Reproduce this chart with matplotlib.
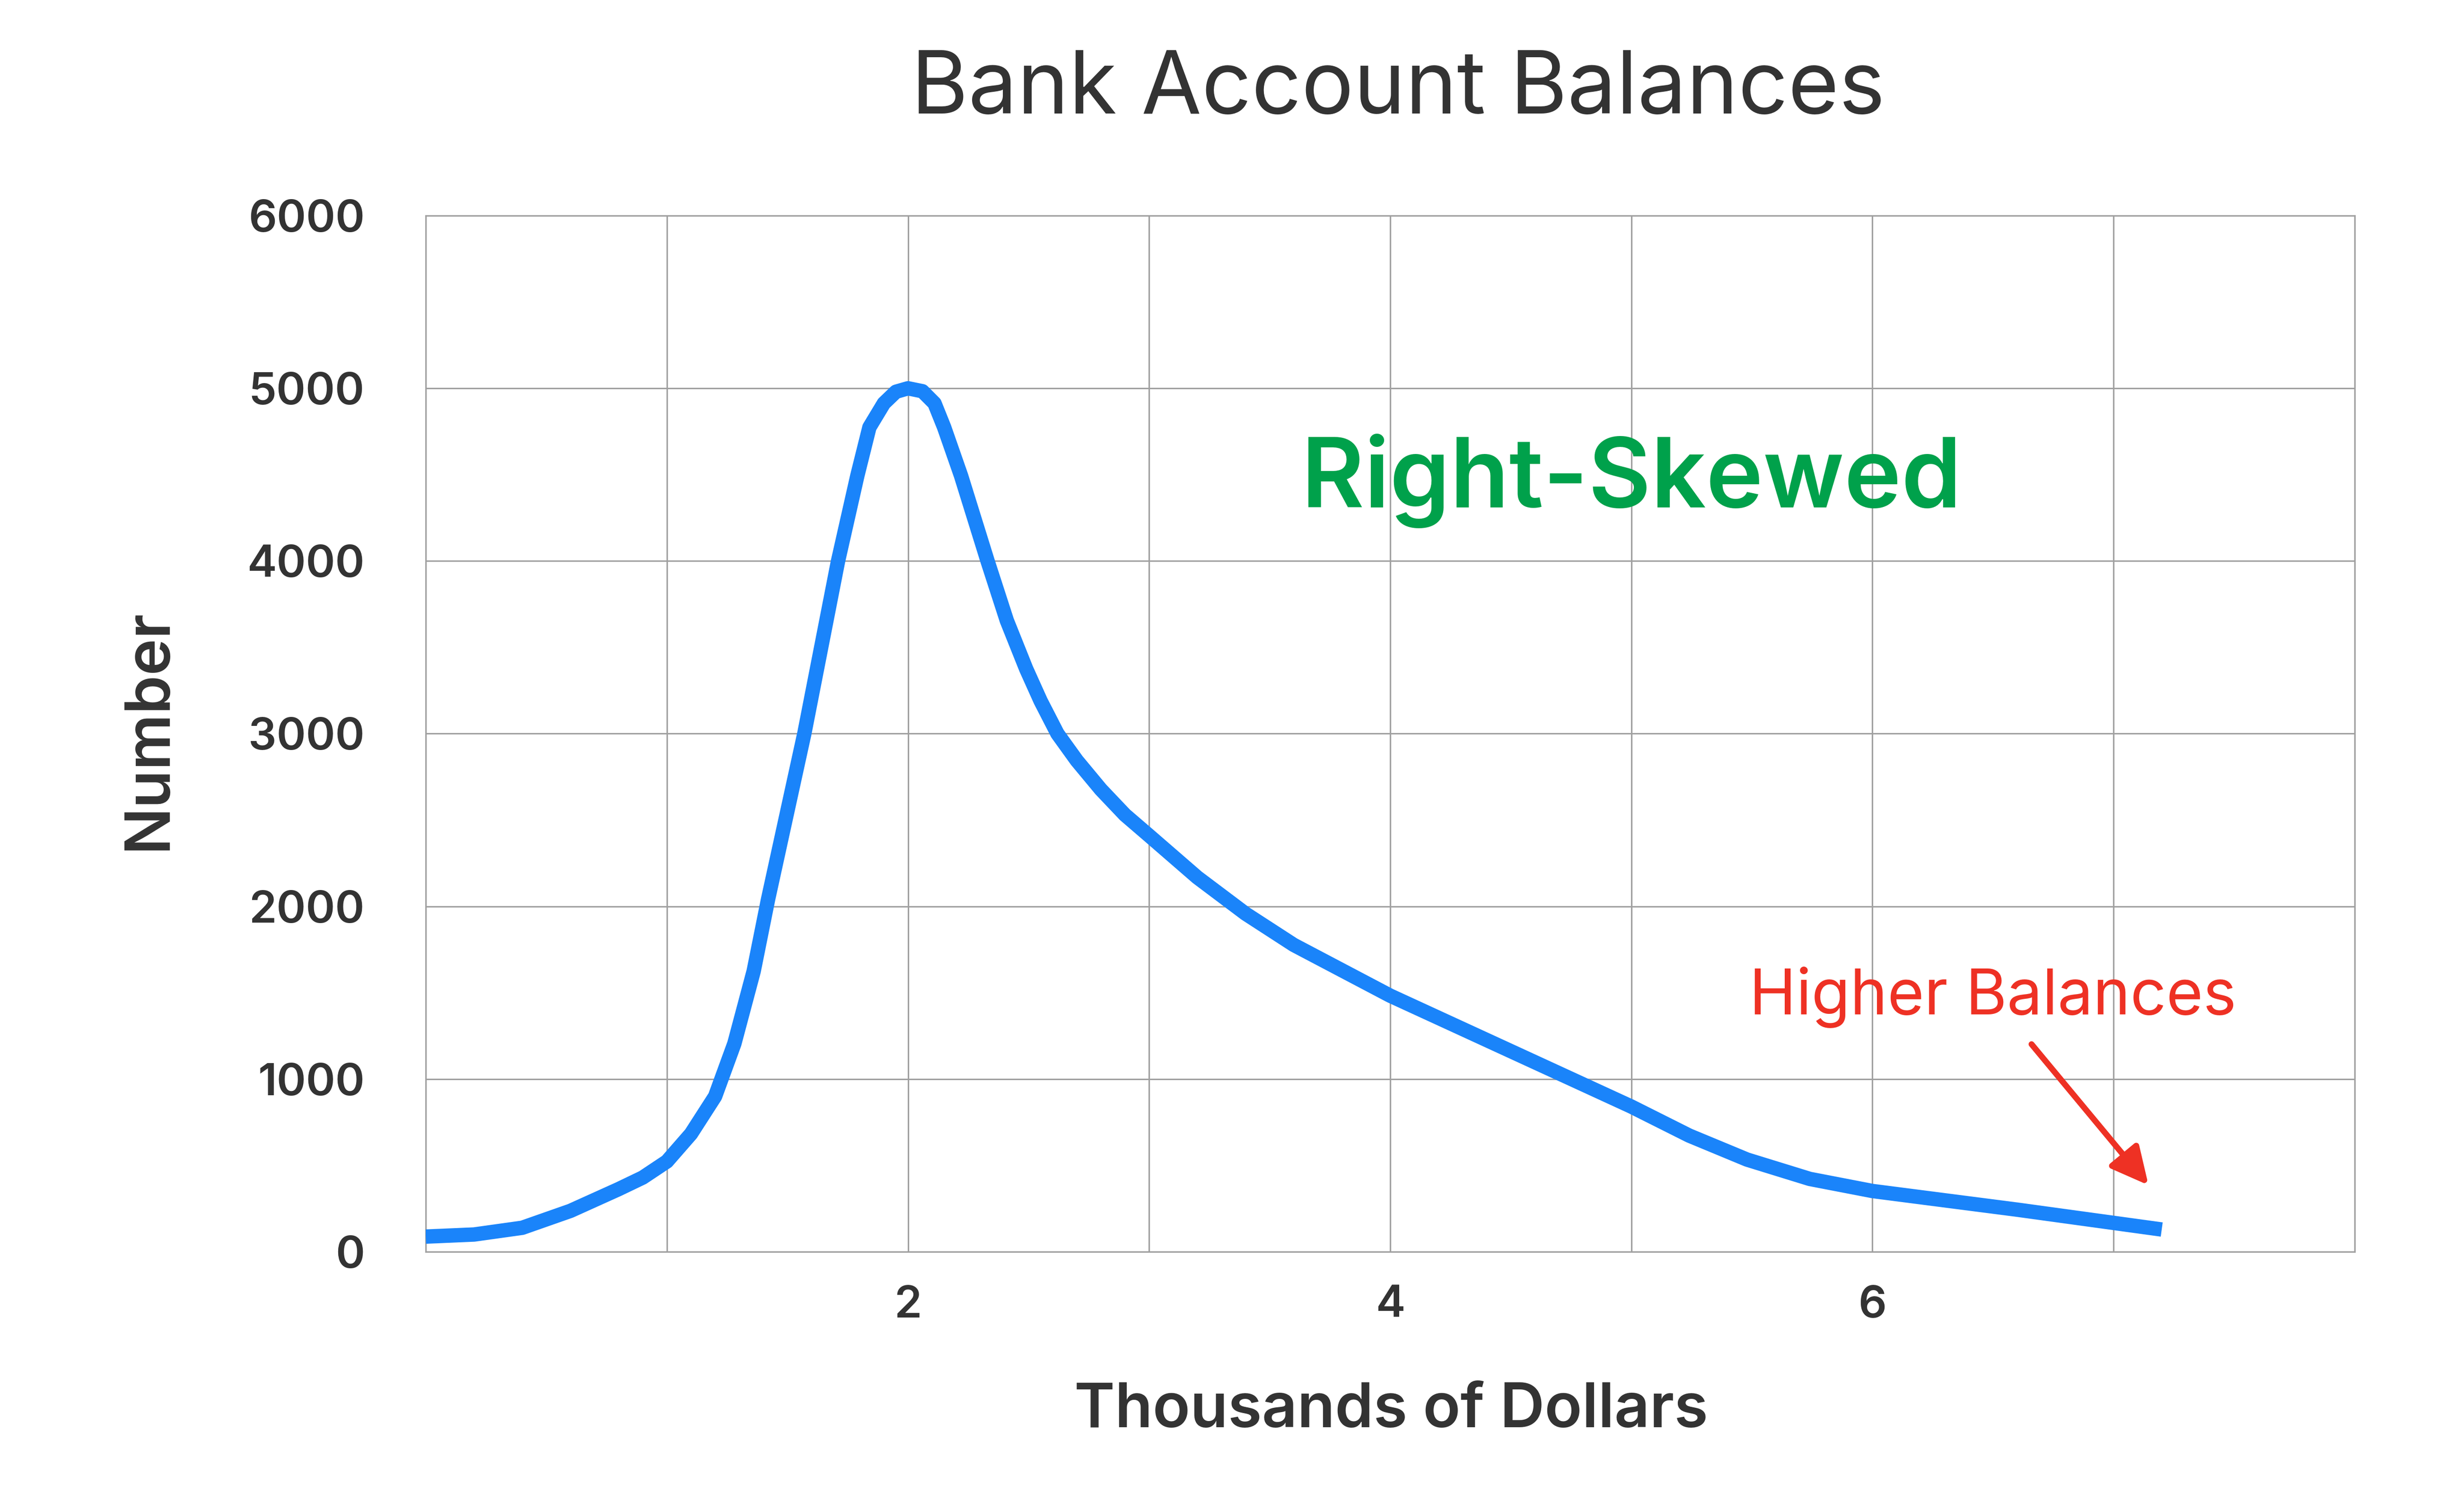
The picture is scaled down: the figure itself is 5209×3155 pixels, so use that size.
import matplotlib
matplotlib.use("Agg")
import matplotlib.pyplot as plt

# Balances (thousands of dollars) and number of accounts
balance = [0, 0.2, 0.4, 0.6, 0.8, 0.9, 1.0, 1.1, 1.2, 1.28, 1.36, 1.42, 1.57, 1.71,
           1.79, 1.84, 1.90, 1.95, 2.0, 2.06, 2.11, 2.15, 2.22, 2.33, 2.41, 2.49,
           2.55, 2.62, 2.7, 2.8, 2.9, 3.0, 3.2, 3.4, 3.6, 4.0, 4.5, 5.0, 5.24,
           5.48, 5.74, 6.0, 6.6, 7.2]
number = [88, 100, 139, 237, 363, 430, 523, 683, 900, 1206, 1625, 2043, 3000, 4000,
          4494, 4774, 4913, 4980, 5000, 4983, 4913, 4774, 4494, 4000, 3655, 3376,
          3190, 3000, 2845, 2677, 2530, 2410, 2168, 1958, 1777, 1483, 1162, 841, 673,
          534, 422, 352, 244, 129]

x_ticks = list(range(0, 9))
x_labels = ["", "", "2", "", "4", "", "6", "", ""]
y_ticks = [0, 1000, 2000, 3000, 4000, 5000, 6000]

dark = "#333333"
grid_col = "#a0a0a0"

plt.rcParams["font.family"] = ["Inter", "DejaVu Sans"]

fig = plt.figure(figsize=(5209 / 300, 3155 / 300), dpi=300)
ax = fig.add_axes([0.1728, 0.161, 0.7828, 0.6945])

ax.plot(balance, number, color="#1a84fa", lw=7.3, solid_capstyle="butt",
        solid_joinstyle="round", zorder=3)

ax.set_xlim(0, 8)
ax.set_ylim(0, 6000)
ax.set_xticks(x_ticks)
ax.set_xticklabels(x_labels)
ax.set_yticks(y_ticks)
ax.set_yticklabels([str(v) for v in y_ticks])
ax.tick_params(length=0, labelsize=22.5, colors=dark)
ax.tick_params(axis="y", pad=31)
ax.tick_params(axis="x", pad=17)
for lab in ax.get_xticklabels() + ax.get_yticklabels():
    lab.set_fontweight("semibold")

ax.grid(True, color=grid_col, lw=0.75)
ax.set_axisbelow(True)
for sp in ax.spines.values():
    sp.set_color(grid_col)
    sp.set_linewidth(0.75)

fig.text(0.5673, 0.924, "Bank Account Balances", ha="center", va="baseline",
         fontsize=44.3, color=dark)
fig.text(0.5646, 0.0434, "Thousands of Dollars", ha="center", va="baseline",
         fontsize=31.3, fontweight="semibold", color=dark)
fig.text(0.0672, 0.511, "Number", ha="center", va="baseline", rotation=90,
         rotation_mode="anchor", fontsize=31.5, fontweight="semibold", color=dark)

ax.text(5.0, 4310, "Right-Skewed", ha="center", va="baseline", fontsize=49,
        fontweight="semibold", color="#00a14b")
ax.text(6.5, 1375, "Higher Balances", ha="center", va="baseline", fontsize=32,
        color="#ee3124")
ax.annotate("", xy=(7.145, 386), xytext=(6.66, 1202),
            arrowprops=dict(arrowstyle="-|>,head_length=0.8,head_width=0.4",
                            color="#ee3124", lw=3, mutation_scale=20,
                            shrinkA=0, shrinkB=0))

fig.savefig("out.png", dpi=300, facecolor="white")
